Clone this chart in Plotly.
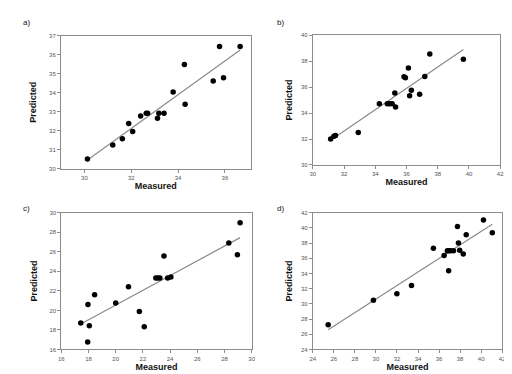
import numpy as np
import plotly.graph_objects as go

# ---- data ----
a_measured = [30.13, 31.21, 31.62, 31.89, 32.06, 32.40, 32.64, 32.70, 33.12, 33.18, 33.40, 33.79, 34.27, 34.30, 35.50, 35.77, 35.94, 36.65]
a_predicted = [30.52, 31.26, 31.59, 32.39, 31.97, 32.78, 32.92, 32.92, 32.66, 32.92, 32.92, 34.04, 35.48, 33.39, 34.61, 36.43, 34.79, 36.43]

b_measured = [31.14, 31.35, 31.45, 32.91, 34.26, 34.77, 34.92, 35.08, 35.25, 35.30, 35.84, 35.93, 36.12, 36.20, 36.31, 36.84, 37.17, 37.49, 39.64]
b_predicted = [32.00, 32.22, 32.28, 32.51, 34.71, 34.71, 34.71, 34.71, 35.54, 34.46, 36.79, 36.72, 37.47, 35.34, 35.76, 35.44, 36.82, 38.55, 38.15]

c_measured = [17.43, 17.96, 18.06, 17.94, 18.45, 20.00, 20.94, 21.74, 22.10, 22.95, 23.10, 23.25, 23.55, 23.82, 24.06, 28.32, 28.95, 29.15]
c_predicted = [18.72, 20.60, 18.42, 16.77, 21.60, 20.77, 22.41, 19.90, 18.32, 23.32, 23.32, 23.32, 25.57, 23.32, 23.42, 26.91, 25.70, 28.96]

d_measured = [25.46, 29.76, 31.99, 33.38, 35.46, 36.48, 36.79, 36.94, 37.10, 36.91, 37.37, 37.75, 37.84, 37.96, 38.30, 38.58, 40.22, 41.06]
d_predicted = [27.26, 30.47, 31.33, 32.42, 37.32, 36.36, 37.01, 37.01, 37.01, 34.37, 37.01, 40.18, 38.01, 37.06, 36.58, 39.09, 41.05, 39.35]

panel_labels = ["a)", "b)", "c)", "d)"]
x_ranges = [[29, 37.1], [30, 42], [16, 30], [24, 42]]
y_ranges = [[30, 37], [30, 40], [16, 30], [24, 42]]
x_ticks = [[30, 32, 34, 36], list(range(30, 43, 2)), list(range(16, 31, 2)), list(range(24, 43, 2))]
y_ticks = [list(range(30, 38)), list(range(30, 41, 2)), list(range(16, 31, 2)), list(range(24, 43, 2))]

W, H = 512, 374
# plot areas in pixels (left, right, top, bottom)
boxes = [(50.7, 243, 25, 160.5), (306, 496, 24.5, 156.5), (51, 244, 205, 344), (306, 498, 205, 344)]
label_pos = [(10, 12), (268, 12), (10, 201), (268, 201)]
y_standoff = [10, 6, 10, 6]
x_standoff = [1, 2, 0, 1]

series = [(a_measured, a_predicted), (b_measured, b_predicted), (c_measured, c_predicted), (d_measured, d_predicted)]

fig = go.Figure()
layout = dict(width=W, height=H, margin=dict(l=0, r=0, t=0, b=0),
              paper_bgcolor="white", plot_bgcolor="white", showlegend=False,
              font=dict(family="Liberation Sans, Arial, sans-serif", color="#333"))
annotations = []
for i, (mx, py) in enumerate(series):
    sfx = "" if i == 0 else str(i + 1)
    mx = np.array(mx); py = np.array(py)
    slope, icpt = np.polyfit(mx, py, 1)
    xl = np.array([mx.min(), mx.max()])
    fig.add_trace(go.Scatter(x=xl, y=slope * xl + icpt, mode="lines",
                             line=dict(color="#8a8a8a", width=1.2),
                             xaxis="x" + sfx, yaxis="y" + sfx, hoverinfo="skip"))
    fig.add_trace(go.Scatter(x=mx, y=py, mode="markers",
                             marker=dict(color="black", size=5.5),
                             xaxis="x" + sfx, yaxis="y" + sfx))
    l, r, t, b = boxes[i]
    common = dict(showgrid=False, zeroline=False, showline=True, mirror=True,
                  linecolor="#8c8c8c", linewidth=1, ticks="outside", ticklen=3,
                  tickcolor="#8c8c8c", tickfont=dict(size=6, color="#555"))
    layout["xaxis" + sfx] = dict(common, domain=[l / W, r / W], range=x_ranges[i],
                                 tickvals=x_ticks[i], anchor="y" + sfx,
                                 title=dict(text="<b>Measured</b>", font=dict(size=9, color="#111"),
                                            standoff=x_standoff[i]))
    layout["yaxis" + sfx] = dict(common, domain=[1 - b / H, 1 - t / H], range=y_ranges[i],
                                 tickvals=y_ticks[i], anchor="x" + sfx,
                                 title=dict(text="<b>Predicted</b>", font=dict(size=9, color="#111"),
                                            standoff=y_standoff[i]))
    annotations.append(dict(text=panel_labels[i], x=label_pos[i][0] / W, y=1 - label_pos[i][1] / H,
                            xref="paper", yref="paper", xanchor="left", yanchor="middle",
                            showarrow=False, font=dict(size=8, color="#111")))
layout["annotations"] = annotations
fig.update_layout(**layout)
fig.write_html("out.html")
